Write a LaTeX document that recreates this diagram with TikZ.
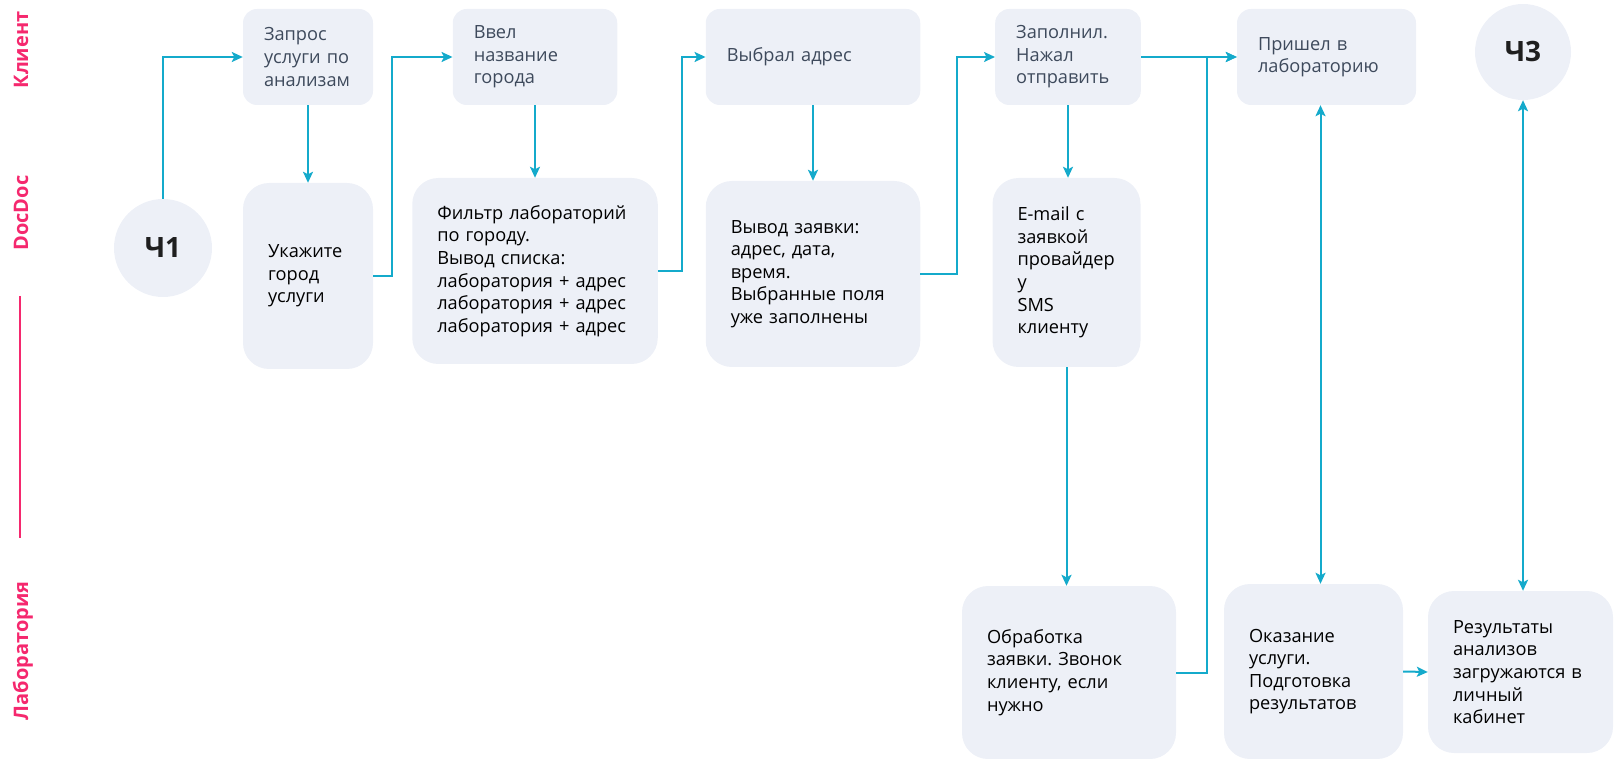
\documentclass[tikz,border=0pt]{standalone}
\usepackage{fontspec}
\setmainfont{Open Sans}
\usetikzlibrary{arrows.meta}
\definecolor{boxfill}{HTML}{EDF0F7}
\definecolor{flow}{HTML}{14AACB}
\definecolor{lane}{HTML}{F5286E}
\definecolor{toptext}{HTML}{3E4A5C}
\frenchspacing

\begin{document}
\begin{tikzpicture}
	[x=1pt, y=-1pt,
	box/.style={fill=boxfill, align=left, inner ysep=0pt, font=\fontsize{18.2}{22.6}\selectfont},
	top/.style={box, rounded corners=14pt, inner xsep=21pt, minimum height=96pt, text=toptext},
	big/.style={box, rounded corners=26pt, inner xsep=25pt},
	ring/.style={circle, fill=boxfill, inner sep=0pt, font=\bfseries\fontsize{28}{30}\selectfont, text=black!88},
	lanename/.style={rotate=90, text=lane, text height=15pt, text depth=5pt, font=\bfseries\fontsize{20}{24}\selectfont},
	flowline/.style={draw=flow, line width=2pt, -{Stealth[length=11pt,width=10pt,inset=2.5pt]}},
	both/.style={flowline, {Stealth[length=11pt,width=10pt,inset=2.5pt]}-{Stealth[length=11pt,width=10pt,inset=2.5pt]}}]

	\useasboundingbox (0,0) rectangle (1615,759);

	\node[lanename] (klient) at (23,50) {Клиент};
	\node[lanename] (docdoc) at (23,213) {DocDoc};
	\node[lanename] (labor) at (23,651) {Лаборатория};
	\draw[lane, line width=2pt] (20,296) -- (20,538);

	\node[ring, minimum size=98pt] (ch1) at (163,248) {Ч1};
	\node[ring, minimum size=96pt] (ch3) at (1523,52) {Ч3};

	\node[top, text width=88pt] (zapros) at (308,57) {Запрос\\услуги по\\анализам};
	\node[top, text width=122.5pt] (vvel) at (535,57) {Ввел\\название\\города};
	\node[top, text width=172.5pt] (vybral) at (813,57) {Выбрал адрес};
	\node[top, text width=103.6pt] (zapoln) at (1068,57) {Заполнил.\\Нажал\\отправить};
	\node[top, text width=137pt] (prishel) at (1326.5,57) {Пришел в\\лабораторию};

	\node[big, text width=80pt, minimum height=186pt] (ukazh) at (308,276) {Укажите\\город\\услуги};
	\node[big, text width=195.5pt, minimum height=186pt] (filtr) at (535,271) {Фильтр лабораторий\\по городу.\\Вывод списка:\\лаборатория + адрес\\лаборатория + адрес\\лаборатория + адрес};
	\node[big, text width=164.5pt, minimum height=186pt] (vyvod) at (813,274) {Вывод заявки:\\адрес, дата,\\время.\\Выбранные поля\\уже заполнены};
	\node[big, text width=98pt, minimum height=189pt] (email) at (1066.5,272.5) {E-mail с\\заявкой\\провайдер\\у\\SMS\\клиенту};

	\node[big, text width=164pt, minimum height=173pt] (obr) at (1069,672.5) {Обработка\\заявки. Звонок\\клиенту, если\\нужно};
	\node[big, text width=129pt, minimum height=175pt] (okaz) at (1313.5,671.5) {Оказание\\услуги.\\Подготовка\\результатов};
	\node[big, text width=135pt, minimum height=162pt] (rez) at (1520.5,672) {Результаты\\анализов\\загружаются в\\личный\\кабинет};

	\draw[flowline] (ch1.north) |- (zapros.west);
	\draw[flowline] (zapros.south) -- (ukazh.north);
	\draw[flowline] (ukazh.east) -- ++(19,0) |- (vvel.west);
	\draw[flowline] (vvel.south) -- (filtr.north);
	\draw[flowline] (filtr.east) -- ++(24,0) |- (vybral.west);
	\draw[flowline] (vybral.south) -- (vyvod.north);
	\draw[flowline] (vyvod.east) -- ++(37,0) |- (zapoln.west);
	\draw[flowline] (zapoln.south) -- (zapoln.south |- email.north);
	\draw[flowline] (email.south) -- (email.south |- obr.north);
	\draw[flowline] (zapoln.east) -- (prishel.west);
	\draw[flowline] (obr.east) -- ++(31,0) |- (prishel.west);
	\draw[both] ([xshift=-6pt]prishel.south) -- ([xshift=-6pt]prishel.south |- okaz.north);
	\draw[both] (ch3.south) -- (ch3.south |- rez.north);
	\draw[flowline] (okaz.east) -- (rez.west);
\end{tikzpicture}
\end{document}
